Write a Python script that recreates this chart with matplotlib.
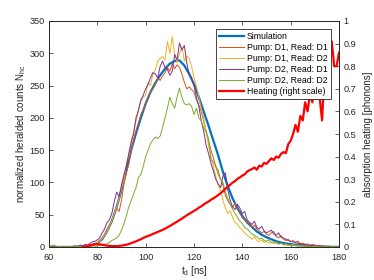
import numpy as np
import matplotlib
matplotlib.use("Agg")
import matplotlib.pyplot as plt

plt.rcParams['font.family'] = ['Liberation Sans', 'DejaVu Sans']

# simulation, 2 ns steps
t_sim = np.arange(60, 181, 2)
sim = [0, 0, 0, 0, 0, 0, 0, 0, 1, 3,
       6, 12, 24, 40, 62, 88, 118, 150, 176, 200,
       222, 240, 254, 266, 276, 284, 288, 289, 281, 268,
       252, 232, 210, 188, 165, 142, 116, 94, 75, 60,
       48, 38, 31, 24, 19, 15, 12, 9, 7, 5.5,
       4.5, 3.5, 2.8, 2, 1.5, 1, 0.8, 0.5, 0.3, 0.2, 0.1]

# measured curves, 1 ns steps
t_exp = np.arange(60, 181, 1)
d1d1 = [0, 1, 0, 0, 1, 0, 0, 1, 0, 0,
        1, 0, 1, 2, 1, 2, 2, 3, 4, 5,
        7, 10, 14, 19, 27, 34, 40, 52, 60, 55,
        72, 98, 115, 128, 148, 165, 180, 192, 205, 212,
        222, 232, 240, 245, 252, 262, 258, 265, 270, 278,
        272, 284, 276, 282, 278, 268, 255, 245, 248, 244,
        240, 228, 220, 210, 195, 180, 165, 150, 138, 125,
        118, 105, 95, 80, 72, 66, 62, 68, 58, 52,
        45, 42, 38, 36, 30, 34, 28, 25, 22, 24,
        20, 18, 22, 24, 16, 14, 18, 12, 10, 12,
        8, 10, 7, 9, 5, 6, 4, 5, 3, 4,
        3, 2, 2, 1, 2, 1, 1, 0, 1, 0, 0]
d1d2 = [0, 0, 1, 0, 0, 1, 0, 0, 0, 1,
        0, 1, 1, 0, 2, 1, 3, 2, 3, 5,
        7, 9, 13, 18, 24, 32, 40, 52, 62, 75,
        90, 104, 130, 140, 165, 178, 195, 210, 225, 232,
        235, 255, 250, 268, 275, 288, 292, 295, 290, 318,
        300, 326, 298, 285, 300, 310, 288, 296, 292, 280,
        262, 250, 232, 215, 200, 178, 158, 140, 125, 110,
        95, 88, 72, 60, 52, 56, 45, 38, 35, 30,
        26, 22, 18, 15, 12, 16, 10, 8, 11, 7,
        9, 6, 7, 5, 8, 4, 6, 3, 5, 2,
        3, 4, 2, 3, 1, 2, 1, 2, 0, 1,
        1, 0, 1, 0, 1, 0, 0, 1, 0, 0, 0]
d2d1 = [0, 1, 0, 1, 0, 0, 1, 0, 1, 0,
        1, 2, 1, 3, 2, 4, 3, 6, 8, 9,
        11, 14, 22, 28, 38, 42, 52, 70, 85, 78,
        96, 112, 125, 145, 162, 175, 200, 212, 228, 235,
        245, 252, 262, 270, 268, 262, 280, 288, 278, 275,
        266, 272, 298, 290, 316, 305, 312, 285, 268, 262,
        250, 232, 218, 195, 180, 158, 145, 130, 118, 105,
        98, 92, 110, 115, 88, 72, 62, 58, 66, 60,
        52, 55, 42, 38, 35, 40, 30, 28, 32, 25,
        22, 24, 26, 20, 18, 22, 15, 14, 12, 10,
        9, 8, 7, 6, 5, 4, 4, 3, 2, 2,
        2, 1, 2, 1, 1, 0, 1, 0, 0, 1, 0]
d2d2 = [0, 2, 3, 1, 0, 1, 0, 0, 1, 0,
        0, 1, 0, 0, 1, 1, 0, 1, 2, 1,
        2, 3, 2, 4, 5, 7, 10, 12, 14, 18,
        26, 36, 48, 62, 72, 82, 92, 108, 112, 125,
        140, 150, 160, 166, 170, 168, 172, 185, 200, 215,
        232, 222, 215, 232, 246, 232, 222, 220, 222, 218,
        205, 215, 200, 195, 185, 178, 168, 135, 132, 124,
        112, 104, 100, 85, 75, 66, 58, 52, 46, 40,
        36, 30, 28, 24, 20, 18, 16, 12, 14, 10,
        9, 11, 7, 8, 6, 5, 6, 4, 3, 4,
        2, 3, 2, 1, 2, 1, 1, 2, 0, 1,
        0, 1, 0, 0, 1, 0, 0, 0, 1, 0, 0]

# heating, right scale
t_heat = np.arange(74, 181, 1)
heat = [0.000, 0.002, 0.004, 0.007, 0.010, 0.012, 0.013, 0.012, 0.010, 0.008,
        0.006, 0.005, 0.004, 0.004, 0.004, 0.005, 0.006, 0.008, 0.010, 0.013,
        0.017, 0.021, 0.025, 0.030, 0.034, 0.040, 0.045, 0.049, 0.053, 0.058,
        0.062, 0.067, 0.071, 0.076, 0.081, 0.087, 0.093, 0.099, 0.106, 0.112,
        0.119, 0.126, 0.133, 0.140, 0.147, 0.153, 0.160, 0.166, 0.174, 0.180,
        0.188, 0.195, 0.201, 0.209, 0.215, 0.222, 0.230, 0.238, 0.247, 0.258,
        0.266, 0.276, 0.285, 0.292, 0.302, 0.308, 0.316, 0.322, 0.334, 0.340,
        0.345, 0.352, 0.342, 0.360, 0.356, 0.372, 0.368, 0.380, 0.392, 0.385,
        0.400, 0.395, 0.412, 0.420, 0.415, 0.455, 0.470, 0.500, 0.540, 0.510,
        0.580, 0.560, 0.640, 0.600, 0.680, 0.640, 0.740, 0.830, 0.660, 0.560,
        0.780, 0.900, 0.820, 0.910, 0.800, 0.800, 0.860]

fig = plt.figure(figsize=(3.74, 2.8), dpi=100)
ax = fig.add_axes([49/374, 1-247/280, 290/374, 226/280])
ax2 = ax.twinx()

l0, = ax.plot(t_sim, sim, color='#0072BD', lw=1.6, label='Simulation')
l1, = ax.plot(t_exp, d1d1, color='#D95319', lw=0.7, label='Pump: D1, Read: D1')
l2, = ax.plot(t_exp, d1d2, color='#EDB120', lw=0.7, label='Pump: D1, Read: D2')
l3, = ax.plot(t_exp, d2d1, color='#7E2F8E', lw=0.7, label='Pump: D2, Read: D1')
l4, = ax.plot(t_exp, d2d2, color='#77AC30', lw=0.7, label='Pump: D2, Read: D2')
l5, = ax2.plot(t_heat, heat, color='#FF0000', lw=1.6, label='Heating (right scale)')

ax.set_xlim(60, 180)
ax.set_ylim(0, 350)
ax2.set_ylim(0, 1)
ax.set_xticks(range(60, 181, 20))
ax.set_yticks(range(0, 351, 50))
ax2.set_yticks(np.arange(0, 1.01, 0.1))
ax2.set_yticklabels(['0', '0.1', '0.2', '0.3', '0.4', '0.5', '0.6', '0.7', '0.8', '0.9', '1'])

for a in (ax, ax2):
    a.tick_params(direction='in', labelsize=6.6, length=3, width=0.5, colors='#262626', pad=3)
    for s in a.spines.values():
        s.set_color('#262626')
        s.set_linewidth(0.6)
ax.tick_params(top=True)
ax.tick_params(axis='x', pad=4)

ax.set_xlabel(r't$_\mathregular{d}$ [ns]', fontsize=7, color='#262626', labelpad=2)
ax.set_ylabel(r'normalized heralded counts N$_\mathregular{hc}$', fontsize=7, color='#262626', labelpad=1)
ax2.set_ylabel('absorption heating [phonons]', fontsize=7, color='#262626', labelpad=5)

leg = ax2.legend(handles=[l0, l1, l2, l3, l4, l5], loc='upper right',
                 bbox_to_anchor=(0.972, 0.965), fontsize=6.3, fancybox=False,
                 framealpha=1, edgecolor='#262626', handlelength=2.8,
                 borderpad=0.35, labelspacing=0.22, handletextpad=0.35, borderaxespad=0)
leg.get_frame().set_linewidth(0.6)

fig.savefig('out.png', dpi=100)
